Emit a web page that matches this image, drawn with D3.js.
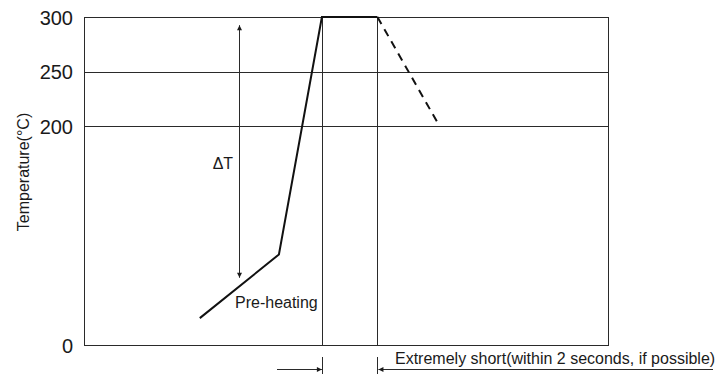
<!DOCTYPE html>
<html><head><meta charset="utf-8">
<script src="https://cdn.jsdelivr.net/npm/d3@7"></script>
<style>body{margin:0;background:#fff}svg{display:block}text{font-family:"Liberation Sans",Arial,sans-serif;fill:#1a1a1a}</style>
</head><body><div id="c"></div>
<script>
// ---- data ----
const yTicks = [0, 200, 250, 300];
const gridLevels = [250, 200];
const profileTime = [22.1, 37.2, 45.4, 56.0];
const profileTemp = [24.6, 82.8, 300, 300];
const coolingTime = [56.0, 67.4];
const coolingTemp = [300, 204];
const markerTimes = [45.4, 56.0];
const deltaTTime = 29.6;
const deltaTRange = [292.5, 61.5];
const labels = {yTitle: "Temperature(\u00B0C)", deltaT: "\u0394T", preheat: "Pre-heating", note: "Extremely short(within 2 seconds, if possible)"};

const W = 725, H = 375;
const x = d3.scaleLinear().domain([0, 100]).range([84, 608]);
const y = d3.scaleLinear().domain([0, 300]).range([345, 17]);
const svg = d3.select("#c").append("svg").attr("width", W).attr("height", H);
const stroke = "#2a2a2a";
const px = v => Math.round(v) + 0.5;

const defs = svg.append("defs");
defs.append("marker").attr("id", "ah").attr("viewBox", "0 0 10 10").attr("refX", 10).attr("refY", 5)
  .attr("markerWidth", 8).attr("markerHeight", 5).attr("markerUnits", "userSpaceOnUse").attr("orient", "auto-start-reverse")
  .append("path").attr("d", "M0,0L10,5L0,10z").attr("fill", "#1a1a1a");

// grid lines
svg.selectAll(".grid").data(gridLevels).enter().append("line")
  .attr("x1", x(0)).attr("x2", x(100)).attr("y1", d => px(y(d))).attr("y2", d => px(y(d)))
  .attr("stroke", stroke).attr("stroke-width", 1);
// frame
svg.append("rect").attr("x", px(x(0))).attr("y", px(y(300))).attr("width", Math.round(x(100)) - Math.round(x(0)))
  .attr("height", Math.round(y(0)) - Math.round(y(300))).attr("fill", "none").attr("stroke", stroke).attr("stroke-width", 1);

// vertical markers
svg.selectAll(".mk").data(markerTimes).enter().append("line")
  .attr("x1", d => px(x(d))).attr("x2", d => px(x(d))).attr("y1", y(300)).attr("y2", y(0))
  .attr("stroke", stroke).attr("stroke-width", 1);

// y axis
const ax = svg.append("g").attr("transform", `translate(${x(0)},0)`)
  .call(d3.axisLeft(y).tickValues(yTicks).tickSize(0).tickPadding(11).tickFormat(d3.format("d")));
ax.select(".domain").remove();
ax.selectAll("text").style("font-size", "20px").attr("fill", "#1a1a1a").attr("dy", "0.35em");

svg.append("text").attr("transform", `translate(29,${(y(300)+y(0))/2 - 9}) rotate(-90)`)
  .attr("text-anchor", "middle").style("font-size", "16px").text(labels.yTitle);

// ΔT arrow
svg.append("line").attr("x1", px(x(deltaTTime))).attr("x2", px(x(deltaTTime)))
  .attr("y1", y(deltaTRange[0])).attr("y2", y(deltaTRange[1]))
  .attr("stroke", stroke).attr("stroke-width", 1)
  .attr("marker-start", "url(#ah)").attr("marker-end", "url(#ah)");
svg.append("text").attr("x", x(deltaTTime) - 6).attr("y", 169).attr("text-anchor", "end")
  .style("font-size", "16px").text(labels.deltaT);

// profile
const line = d3.line().x(d => x(d[0])).y(d => y(d[1]));
svg.append("path").datum(d3.zip(profileTime, profileTemp)).attr("d", line)
  .attr("fill", "none").attr("stroke", "#111").attr("stroke-width", 2).attr("stroke-linejoin", "miter");
svg.append("path").datum(d3.zip(coolingTime, coolingTemp)).attr("d", line)
  .attr("fill", "none").attr("stroke", "#111").attr("stroke-width", 2).attr("stroke-dasharray", "8,6");

svg.append("text").attr("x", 235).attr("y", 308).style("font-size", "16px").text(labels.preheat);

// bottom annotation
const ay = 369.5;
svg.append("line").attr("x1", 277).attr("x2", x(markerTimes[0])).attr("y1", ay).attr("y2", ay)
  .attr("stroke", stroke).attr("stroke-width", 1).attr("marker-end", "url(#ah)");
svg.append("line").attr("x1", 713).attr("x2", x(markerTimes[1]) + 1).attr("y1", ay).attr("y2", ay)
  .attr("stroke", stroke).attr("stroke-width", 1).attr("marker-end", "url(#ah)");
svg.selectAll(".tk").data(markerTimes).enter().append("line")
  .attr("x1", d => px(x(d))).attr("x2", d => px(x(d))).attr("y1", 357).attr("y2", 374)
  .attr("stroke", stroke).attr("stroke-width", 1);
svg.append("text").attr("x", 395).attr("y", 364).style("font-size", "16px").text(labels.note);
</script></body></html>
